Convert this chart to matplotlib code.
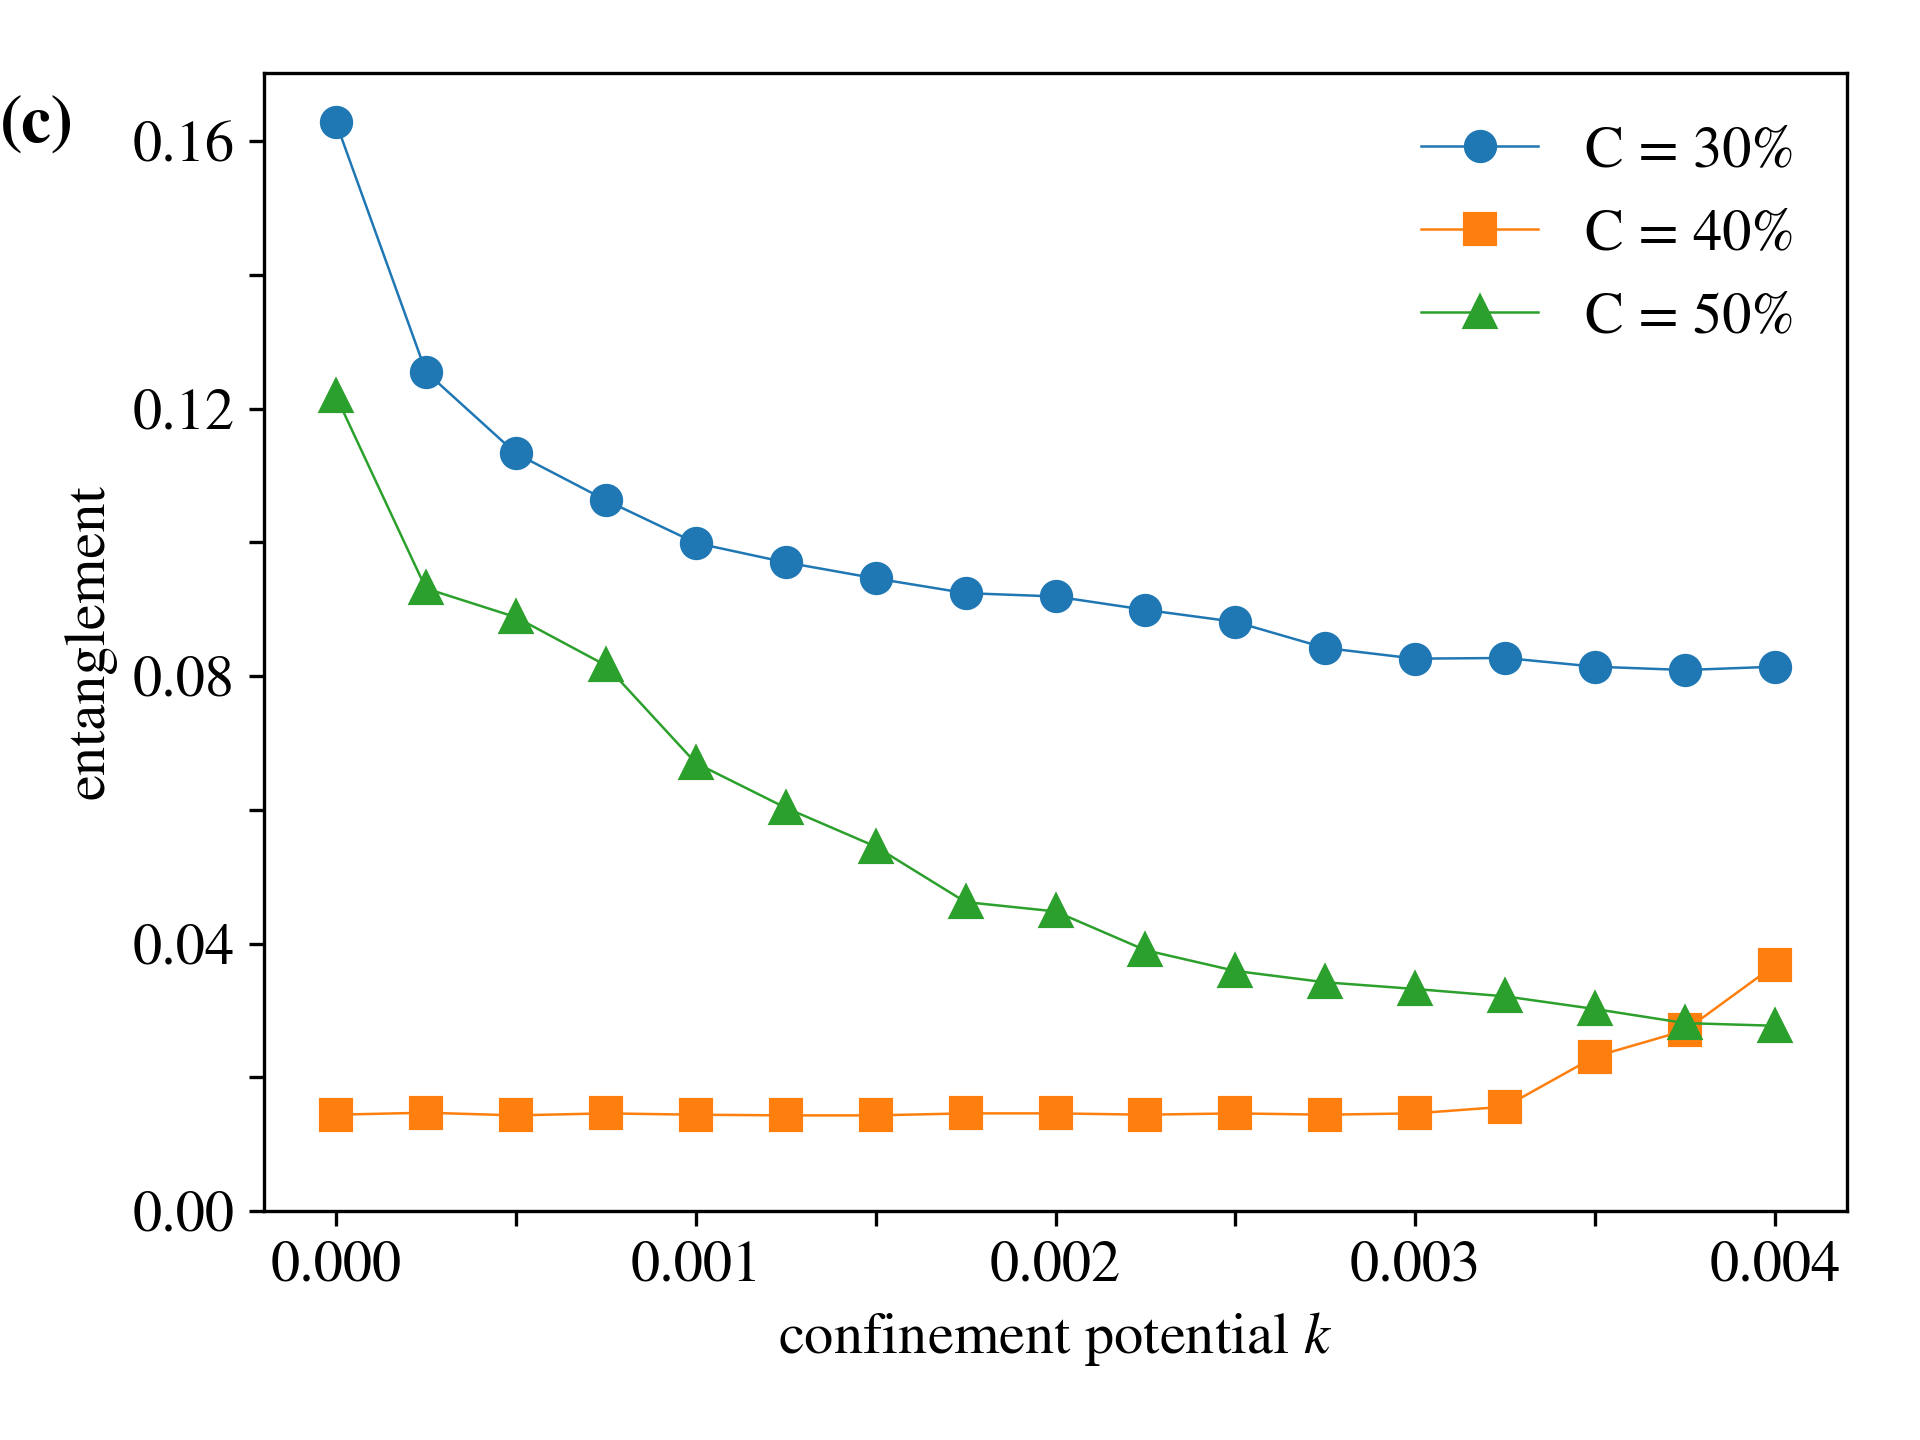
import numpy as np
import matplotlib
matplotlib.use("Agg")
import matplotlib.pyplot as plt

plt.rcParams['font.family'] = 'serif'
plt.rcParams['font.serif'] = ['STIXGeneral', 'Liberation Serif', 'DejaVu Serif']
plt.rcParams['mathtext.fontset'] = 'stix'

k = [0.0, 0.00025, 0.0005, 0.00075, 0.001, 0.00125, 0.0015, 0.00175, 0.002,
     0.00225, 0.0025, 0.00275, 0.003, 0.00325, 0.0035, 0.00375, 0.004]

c30 = [0.1628, 0.1255, 0.1133, 0.1063, 0.0999, 0.0970, 0.0946, 0.0924, 0.0919,
       0.0899, 0.0881, 0.0842, 0.0826, 0.0827, 0.0814, 0.0809, 0.0814]
c40 = [0.0144, 0.0147, 0.0143, 0.0146, 0.0144, 0.0143, 0.0143, 0.0146, 0.0146,
       0.0144, 0.0146, 0.0144, 0.0146, 0.0156, 0.0231, 0.0270, 0.0368]
c50 = [0.1219, 0.0931, 0.0888, 0.0816, 0.0670, 0.0603, 0.0545, 0.0462, 0.0448,
       0.0390, 0.0359, 0.0342, 0.0332, 0.0321, 0.0302, 0.0281, 0.0277]

labels = ['C = 30%', 'C = 40%', 'C = 50%']
xticks = [0.0, 0.0005, 0.001, 0.0015, 0.002, 0.0025, 0.003, 0.0035, 0.004]
xticklabels = ['0.000', '', '0.001', '', '0.002', '', '0.003', '', '0.004']
yticks = [0.0, 0.02, 0.04, 0.06, 0.08, 0.10, 0.12, 0.14, 0.16]
yticklabels = ['0.00', '', '0.04', '', '0.08', '', '0.12', '', '0.16']

fig = plt.figure(figsize=(6.4, 4.8), dpi=300)
ax = fig.add_axes([264/1920, 1 - 1211/1440, (1847-264)/1920, (1211-72.7)/1440])

ax.plot(k, c30, marker='o', color='#1f77b4', lw=0.6, markersize=7, label=labels[0])
ax.plot(k, c40, marker='s', color='#ff7f0e', lw=0.6, markersize=7, label=labels[1])
ax.plot(k, c50, marker='^', color='#2ca02c', lw=0.6, markersize=7, label=labels[2])

ax.set_ylim(bottom=0)
ax.set_xticks(xticks)
ax.set_xticklabels(xticklabels)
ax.set_yticks(yticks)
ax.set_yticklabels(yticklabels)
ax.tick_params(labelsize=14)
ax.set_xlabel('confinement potential $k$', fontsize=14)
ax.set_ylabel('entanglement', fontsize=14)
ax.legend(loc='upper right', frameon=False, fontsize=14)

fig.text(0.0, 1 - 143/1440, '(c)', fontsize=16, fontweight='bold', va='baseline', ha='left')

fig.savefig('out.png', dpi=300)
